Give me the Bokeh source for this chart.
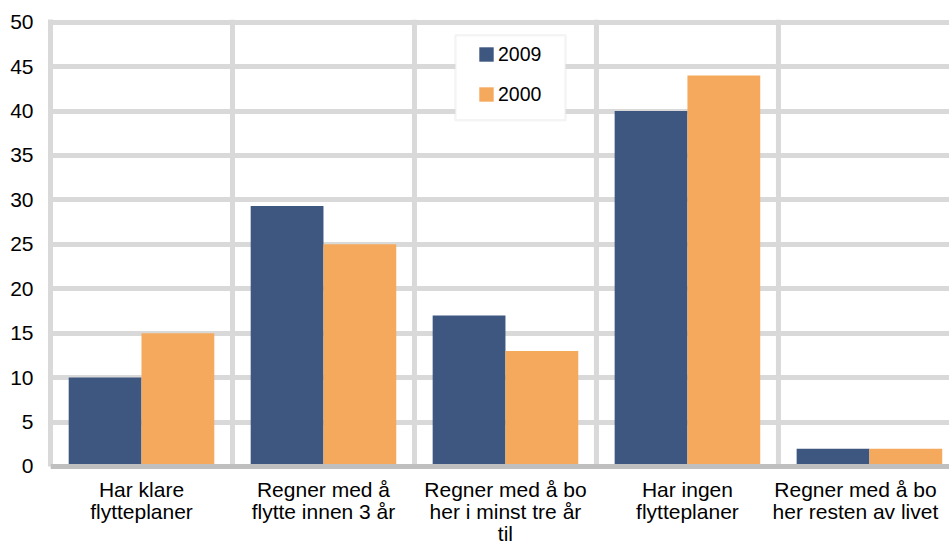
from bokeh.plotting import figure
from bokeh.models import (ColumnDataSource, Range1d, FixedTicker, Legend, LegendItem,
                          BoxAnnotation, Label, Span)
from bokeh.transform import dodge
from bokeh.embed import file_html
from bokeh.resources import INLINE

categories = [
    "Har klare\nflytteplaner",
    "Regner med å\nflytte innen 3 år",
    "Regner med å bo\nher i minst tre år\ntil",
    "Har ingen\nflytteplaner",
    "Regner med å bo\nher resten av livet",
]
values_2009 = [10, 29.3, 17, 40, 2]
values_2000 = [15, 25, 13, 44, 2]
series_labels = ["2009", "2000"]
y_ticks = [0, 5, 10, 15, 20, 25, 30, 35, 40, 45, 50]

NAVY = "#3e5780"
ORANGE = "#f5a95d"
GRID = "#d9d9d9"
FONT = "Liberation Sans"

pos = [i + 0.5 for i in range(len(categories))]
src = ColumnDataSource(dict(x=pos, v2009=values_2009, v2000=values_2000,
                            label=categories))
bounds = list(range(1, len(categories) + 1))
sep = ColumnDataSource(dict(x=bounds, y0=[y_ticks[0]] * len(bounds),
                            y1=[y_ticks[-1] + 0.3] * len(bounds)))

p = figure(width=949, height=551, output_backend="svg", toolbar_location=None,
           x_range=Range1d(0, 4.94), y_range=Range1d(-9.57, 50.3),
           min_border_left=50, min_border_right=0, min_border_top=19,
           min_border_bottom=0)
p.outline_line_color = None
p.background_fill_color = "white"
p.border_fill_color = "white"

# vertical separators between categories (stop at the axis)
p.segment(x0="x", y0="y0", x1="x", y1="y1", source=sep,
          line_color=GRID, line_width=5, level="underlay")

r1 = p.vbar(x=dodge("x", -0.2, range=p.x_range), top="v2009", width=0.4,
            source=src, fill_color=NAVY, line_color=None)
r2 = p.vbar(x=dodge("x", 0.2, range=p.x_range), top="v2000", width=0.4,
            source=src, fill_color=ORANGE, line_color=None)

# grids
p.ygrid.ticker = FixedTicker(ticks=y_ticks[1:])
p.ygrid.grid_line_color = GRID
p.ygrid.grid_line_width = 5
p.xgrid.visible = False

# axes
p.xaxis.visible = False
p.yaxis.ticker = FixedTicker(ticks=y_ticks)
p.yaxis.bounds = (y_ticks[0], y_ticks[-1] + 0.3)
p.yaxis.axis_line_color = GRID
p.yaxis.axis_line_width = 5
p.yaxis.major_tick_line_color = None
p.yaxis.minor_tick_line_color = None
p.yaxis.major_label_standoff = 11
p.yaxis.major_label_text_font = FONT
p.yaxis.major_label_text_font_size = "21px"
p.yaxis.major_label_text_color = "black"

# category axis line at zero
p.add_layout(Span(location=0, dimension="width", line_color="#bfbfbf",
                  line_width=5, level="guide"))

# category labels under the axis
for i, (x, lab) in enumerate(zip(pos, categories)):
    p.add_layout(Label(x=x, y=-1.25, text=lab,
                       x_offset=-14 if i == len(categories) - 1 else 0,
                       text_align="center", text_baseline="top",
                       text_font=FONT, text_font_size="21px",
                       text_color="black", text_line_height=0.97))

# legend box
box = BoxAnnotation(left=2.225, right=2.83, top=48.54, bottom=38.96,
                    fill_color="white", fill_alpha=1.0,
                    line_color=GRID, line_width=2.5, level="annotation")
p.add_layout(box)

legend = Legend(items=[LegendItem(label=series_labels[0], renderers=[r1]),
                       LegendItem(label=series_labels[1], renderers=[r2])],
                location=(427, 445), orientation="vertical",
                padding=0, margin=0, spacing=16,
                glyph_width=18, glyph_height=18, label_height=24,
                label_standoff=3,
                label_text_font=FONT, label_text_font_size="19.5px",
                label_text_color="black",
                background_fill_alpha=0, border_line_alpha=0)
p.add_layout(legend)

open("out.html", "w").write(file_html(p, INLINE))
